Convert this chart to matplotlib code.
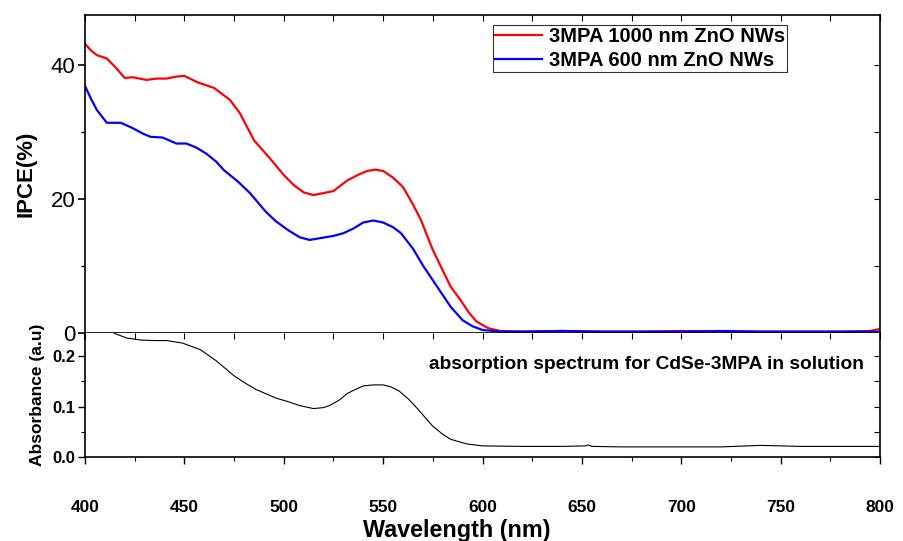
import matplotlib
matplotlib.use('Agg')
import matplotlib.pyplot as plt
from matplotlib.ticker import MultipleLocator

plt.rcParams['font.family'] = ['Liberation Sans', 'DejaVu Sans']

# IPCE curves
wl_red = [400, 403, 406, 411, 415, 420, 424, 431, 436, 441, 446, 450, 457, 465, 473, 478, 485, 493, 500, 505,
          510, 515, 520, 525, 532, 538, 542, 546, 550, 555, 560, 565, 569, 575, 584, 589, 593, 597, 603, 609,
          620, 640, 660, 680, 700, 720, 740, 760, 780, 795, 800]
ipce_red = [43.2, 42.2, 41.5, 41.0, 39.8, 38.1, 38.2, 37.8, 38.0, 38.0, 38.3, 38.4, 37.4, 36.6, 34.8, 32.8, 28.8, 26.1, 23.6, 22.1,
            21.0, 20.6, 20.9, 21.2, 22.8, 23.7, 24.2, 24.4, 24.2, 23.2, 21.8, 19.2, 16.9, 12.4, 6.9, 4.9, 3.1, 1.7, 0.7, 0.3,
            0.2, 0.3, 0.2, 0.2, 0.3, 0.2, 0.2, 0.2, 0.2, 0.3, 0.6]

wl_blue = [400, 403, 406, 411, 418, 424, 429, 433, 439, 446, 451, 456, 461, 466, 470, 477, 483, 491, 496, 502,
           508, 513, 519, 525, 530, 535, 540, 545, 550, 555, 559, 565, 570, 577, 584, 590, 595, 600, 609, 620,
           640, 660, 680, 700, 720, 740, 760, 780, 800]
ipce_blue = [36.9, 35.0, 33.3, 31.4, 31.4, 30.6, 29.8, 29.3, 29.2, 28.3, 28.3, 27.7, 26.8, 25.6, 24.3, 22.6, 20.9, 18.1, 16.7, 15.4,
             14.3, 13.9, 14.2, 14.5, 14.9, 15.6, 16.5, 16.8, 16.5, 15.8, 14.9, 12.6, 10.1, 7.0, 3.9, 1.9, 1.0, 0.45, 0.2, 0.2,
             0.3, 0.2, 0.2, 0.2, 0.3, 0.2, 0.2, 0.2, 0.2]

# absorption spectrum
wl_abs = [400, 405, 410, 415, 421, 428, 435, 441, 449, 458, 466, 475, 480, 486, 496, 502, 508, 515, 520, 523,
          528, 532, 536, 540, 545, 550, 554, 558, 563, 567, 571, 575, 580, 584, 592, 600, 620, 640, 652, 653,
          655, 670, 700, 720, 740, 760, 780, 800]
absorb = [0.30, 0.28, 0.258, 0.245, 0.236, 0.232, 0.231, 0.231, 0.226, 0.213, 0.191, 0.161, 0.148, 0.134, 0.117, 0.110, 0.102, 0.096, 0.098, 0.102,
          0.113, 0.126, 0.134, 0.141, 0.143, 0.143, 0.139, 0.131, 0.114, 0.097, 0.079, 0.061, 0.045, 0.035, 0.026, 0.022, 0.021, 0.021, 0.022, 0.024,
          0.021, 0.020, 0.020, 0.020, 0.023, 0.021, 0.021, 0.021]

fig = plt.figure(figsize=(9.04, 5.41), dpi=100)
ax1 = fig.add_axes([0.094, 0.3845, 0.8795, 0.5878])
ax2 = fig.add_axes([0.094, 0.1553, 0.8795, 0.2292])

ax1.plot(wl_red, ipce_red, color='#ff0000', lw=1.6, label='3MPA 1000 nm ZnO NWs')
ax1.plot(wl_blue, ipce_blue, color='#0000ff', lw=1.6, label='3MPA 600 nm ZnO NWs')
ax1.set_xlim(400, 800)
ax1.set_ylim(0, 47.5)
ax1.set_yticks([0, 20, 40])
ax1.yaxis.set_minor_locator(MultipleLocator(10))
ax1.xaxis.set_major_locator(MultipleLocator(50))
ax1.xaxis.set_minor_locator(MultipleLocator(25))
ax1.tick_params(axis='both', which='both', direction='out', labelsize=16)
ax1.tick_params(axis='y', pad=2)
ax1.tick_params(axis='x', labelbottom=False)
ax1.tick_params(which='major', length=5, width=1.2)
ax1.tick_params(which='minor', length=3, width=1.0)
ax1.set_ylabel('IPCE(%)', fontsize=16, fontweight='bold', labelpad=10)
leg = ax1.legend(loc='upper left', bbox_to_anchor=(0.513, 0.969),
                 prop={'weight': 'bold', 'size': 14.5}, frameon=True, fancybox=False,
                 borderpad=0.12, labelspacing=0.22, handlelength=2.3, handletextpad=0.35,
                 borderaxespad=0.0)
leg.get_frame().set_edgecolor('black')
leg.get_frame().set_linewidth(0.8)

ax2.plot(wl_abs, absorb, color='black', lw=0.8)
ax2.set_xlim(400, 800)
ax2.set_ylim(0, 0.246)
ax2.set_yticks([0.0, 0.1, 0.2])
ax2.set_yticklabels(['0.0', '0.1', '0.2'])
ax2.yaxis.set_minor_locator(MultipleLocator(0.05))
ax2.xaxis.set_major_locator(MultipleLocator(50))
ax2.xaxis.set_minor_locator(MultipleLocator(25))
ax2.tick_params(axis='both', which='both', direction='out')
ax2.tick_params(which='major', length=5, width=1.0)
ax2.tick_params(which='minor', length=3, width=0.8)
ax2.tick_params(axis='x', pad=26)
ax2.tick_params(axis='y', pad=2)
for lab in ax2.get_xticklabels():
    lab.set_fontweight('bold')
    lab.set_fontsize(12.5)
for lab in ax2.get_yticklabels():
    lab.set_fontweight('bold')
    lab.set_fontsize(12)
ax2.spines['top'].set_visible(False)
ax2.set_ylabel('Absorbance (a.u)', fontsize=12.5, fontweight='bold', labelpad=5)
ax2.set_xlabel('Wavelength (nm)', fontsize=16.8, fontweight='bold')
ax2.xaxis.set_label_coords(0.468, -0.5)
ax2.text(0.433, 0.742, 'absorption spectrum for CdSe-3MPA in solution', transform=ax2.transAxes,
         fontsize=13.8, fontweight='bold', va='center')

# inward ticks on the top and right sides
for ax in (ax1, ax2):
    for s in ax.spines.values():
        s.set_linewidth(1.2)
    sx = ax.secondary_xaxis('top')
    sx.xaxis.set_major_locator(MultipleLocator(25))
    sx.tick_params(direction='in', length=4, labeltop=False)
    sy = ax.secondary_yaxis('right')
    sy.yaxis.set_major_locator(MultipleLocator(10 if ax is ax1 else 0.05))
    sy.tick_params(direction='in', length=4, labelright=False)
    sx.spines['top'].set_visible(False)
    sy.spines['right'].set_visible(False)

ax2.secondary_xaxis('top').set_visible(False)

fig.savefig('out.png', dpi=100)
